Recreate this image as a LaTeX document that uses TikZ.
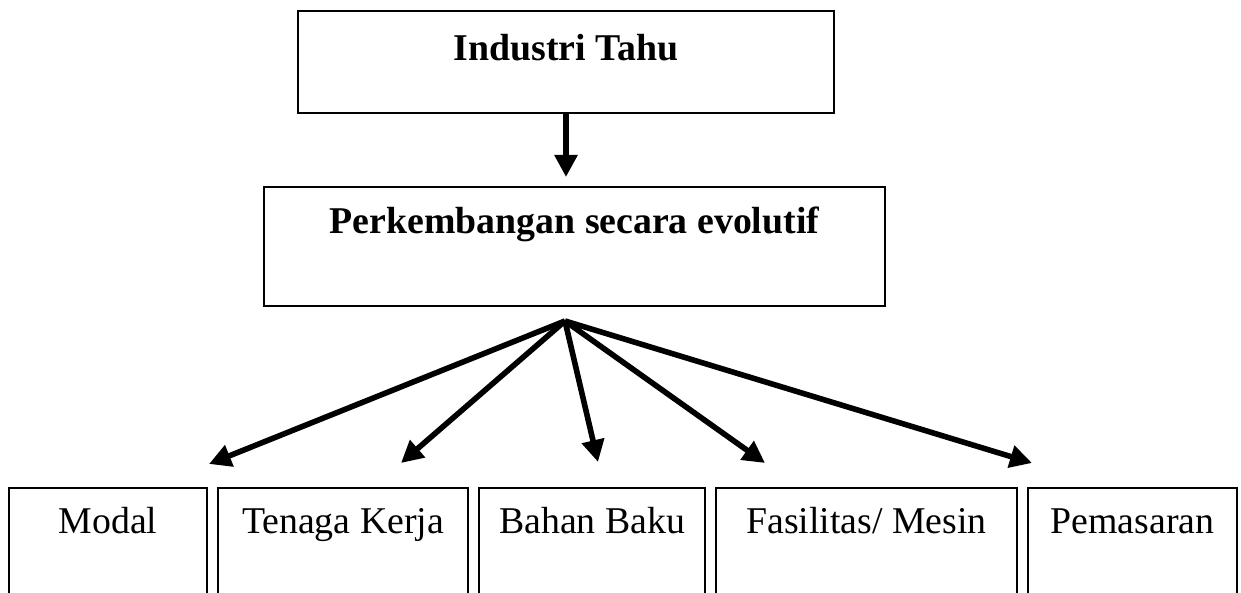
\documentclass[tikz,border=0pt]{standalone}
\usepackage{fontspec}
\setmainfont{Liberation Serif}
\usetikzlibrary{positioning,chains,arrows.meta}
\tikzset{
>={Triangle[length=11pt,width=11pt]},
  box/.style={
    rectangle,
    draw=black, line width=1pt,
    inner sep=0pt,
    anchor=north,
    font=\fontsize{18.9}{22}\selectfont\bfseries},
  smallbox/.style={
    rectangle,
    % fill=black!10,
    draw=black, line width=0.8pt,
    inner sep=0pt, outer sep=0pt,
    text height=22.5pt,
    text depth=45pt,
    font=\fontsize{18.9}{22}\selectfont,
    on chain},
  line/.style={draw, line width=2.8pt, ->},
}

\begin{document}
\begin{tikzpicture}[x=0.5pt, y=-0.5pt]
\clip (0,0) rectangle (1241,593);

\node[box, minimum width=268pt, text height=25pt, text depth=26pt] (Industri) at (566,10) {Industri Tahu};
\node[box, minimum width=310.5pt, text height=23.5pt, text depth=36pt] (Evolutif) at (574.5,186) {Perkembangan secara evolutif};

\draw[line, shorten >=4.5pt] (Industri.south) -- (Industri.south |- Evolutif.north);

% faktor
\begin{scope}[start chain=going right, node distance=5.5pt]
\node[smallbox, minimum width=99pt, anchor=north west] (Modal) at (9,488) {Modal};
\node[smallbox, minimum width=125pt] (Tenaga) {Tenaga Kerja};
\node[smallbox, minimum width=113pt] (Bahan) {Bahan Baku};
\node[smallbox, minimum width=150.5pt] (Fasilitas) {Fasilitas/ Mesin};
\node[smallbox, minimum width=104.5pt] (Pemasaran) {Pemasaran};
\end{scope}

\coordinate (Fan) at (565,321);
\coordinate (Modal-tip) at (209,464);
\coordinate (Tenaga-tip) at (401,463);
\coordinate (Bahan-tip) at (598,462);
\coordinate (Fasilitas-tip) at (765,463);
\coordinate (Pemasaran-tip) at (1032,463);

\foreach \f in {Modal,Tenaga,Bahan,Fasilitas,Pemasaran}
  \draw[line] (Fan) -- (\f-tip);

\end{tikzpicture}
\end{document}
